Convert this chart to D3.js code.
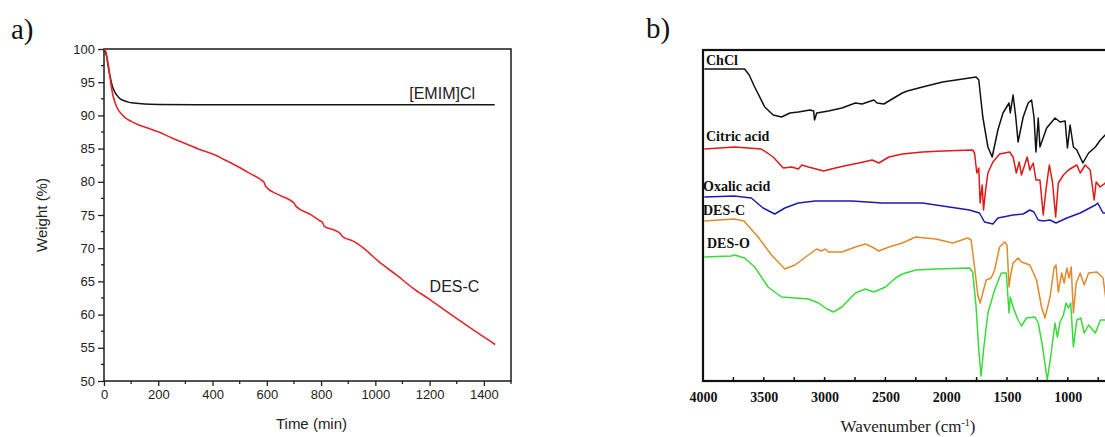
<!DOCTYPE html>
<html><head><meta charset="utf-8">
<script src="https://cdn.jsdelivr.net/npm/d3@7"></script>
<style>
html,body{margin:0;padding:0;background:#fff;}
svg{display:block;}
</style></head>
<body>
<svg id="chart" width="1105" height="437"></svg>
<script>
// ---------- Panel a: TGA ----------
const timeTicks = [0, 200, 400, 600, 800, 1000, 1200, 1400];
const weightTicks = [50, 55, 60, 65, 70, 75, 80, 85, 90, 95, 100];

const emimTime   = [0, 5, 10, 15, 20, 25, 30, 40, 50, 60, 75, 90, 110, 150, 200, 400, 800, 1440];
const emimWeight = [100, 99.6, 98.8, 97.5, 96.3, 95.4, 94.5, 93.5, 92.9, 92.5, 92.2, 92.0, 91.85, 91.7, 91.65, 91.6, 91.6, 91.6];

const descTime   = [0, 5, 10, 15, 20, 25, 30, 40, 50, 63, 80, 100, 126, 160, 202, 250, 304, 350, 405, 450, 506, 540, 582, 590, 596, 640, 683, 700, 708, 760, 797, 805, 812, 850, 873, 878, 885, 917, 960, 1012, 1080, 1138, 1200, 1265, 1350, 1442];
const descWeight = [100, 99.8, 99, 97.8, 96.5, 94.9, 93.6, 92, 91, 90.3, 89.6, 89.1, 88.6, 88.1, 87.5, 86.6, 85.7, 84.9, 84.1, 83.2, 82.0, 81.2, 80.2, 79.9, 79.3, 78.1, 77.3, 76.8, 76.3, 75.1, 74.1, 73.9, 73.3, 72.7, 72.1, 71.8, 71.6, 71.1, 69.9, 68.0, 65.9, 64.0, 62.3, 60.4, 58.0, 55.5];

// ---------- Panel b: FTIR (offset spectra, arbitrary units) ----------
const wnTicks = [4000, 3500, 3000, 2500, 2000, 1500, 1000, 500];
const chclSpec = [[3989,312],[3658,312],[3620,306],[3575,294],[3492,274],[3423,266],[3354,264],[3285,268],[3216,269],[3120,271],[3090,270],[3083,261],[3065,268],[2968,270],[2858,273],[2747,278],[2692,277],[2595,281],[2568,278],[2513,277],[2444,282],[2361,288],[2320,290],[2195,294],[2030,299],[1864,302],[1754,304],[1732,301],[1699,264],[1657,234],[1622,224],[1575,251],[1533,268],[1483,278],[1473,268],[1450,286],[1428,264],[1409,239],[1367,264],[1326,278],[1298,281],[1278,264],[1262,229],[1243,263],[1229,234],[1174,253],[1105,263],[1064,259],[1022,260],[1003,233],[981,256],[954,234],[926,231],[876,218],[829,228],[773,234],[732,241],[677,248],[663,259],[620,276]];
const citricSpec = [[3989,232],[3741,234],[3520,232],[3423,224],[3340,213],[3271,214],[3216,212],[3188,216],[3133,214],[3009,210],[2912,213],[2802,216],[2719,218],[2609,221],[2554,218],[2471,224],[2361,227],[2195,229],[2030,230],[1782,231],[1767,228],[1748,208],[1732,213],[1721,178],[1704,196],[1693,171],[1676,191],[1657,208],[1616,219],[1561,227],[1478,229],[1450,224],[1423,208],[1400,219],[1381,206],[1334,224],[1312,211],[1284,218],[1262,201],[1229,201],[1202,166],[1180,191],[1152,216],[1125,198],[1100,164],[1078,198],[1036,206],[995,211],[954,214],[926,216],[898,208],[857,216],[816,211],[783,181],[767,199],[734,194],[692,198],[673,204],[620,209]];
const oxalicSpec = [[3989,184],[3741,185],[3603,183],[3506,173],[3410,167],[3327,173],[3216,178],[3078,180],[2775,180],[2526,178],[2361,178],[2195,178],[1975,174],[1809,171],[1740,168.5],[1726,168],[1685,159],[1616,157],[1575,163],[1533,164],[1450,166],[1367,167],[1312,171],[1279,169],[1243,161],[1202,160],[1146,161],[1097,158],[1008,163],[898,168],[773,176],[754,178],[710,168],[663,168],[620,168]];
const descSpec = [[3989,160],[3741,162],[3663,160],[3547,144],[3437,126],[3327,112],[3244,116],[3133,126],[3065,132],[3029,130],[2995,132],[2968,129],[2858,129],[2747,134],[2664,137],[2609,134],[2554,130],[2471,134],[2361,138],[2251,144],[2086,142],[1947,138],[1823,143],[1795,141],[1767,114],[1740,86],[1721,78],[1699,88],[1671,101],[1630,103],[1602,111],[1561,134],[1519,139],[1500,136],[1483,94],[1473,104],[1450,118],[1409,123],[1381,119],[1312,116],[1257,101],[1216,74],[1188,63],[1146,84],[1113,113],[1097,116],[1078,89],[1050,108],[1030,98],[1008,113],[989,103],[972,114],[954,68],[931,98],[898,108],[865,96],[829,108],[760,109],[710,103],[677,73],[663,78],[620,91]];
const desoSpec = [[3989,124],[3768,125],[3741,126],[3658,123],[3575,114],[3465,94],[3354,84],[3244,83],[3133,82],[3050,78],[2981,72],[2926,69],[2858,74],[2747,88],[2664,92],[2595,89],[2499,94],[2416,103],[2361,107],[2251,111],[2086,112],[1809,113],[1782,109],[1754,74],[1732,31],[1713,5],[1693,31],[1657,68],[1602,91],[1547,108],[1506,108],[1483,68],[1473,84],[1450,74],[1409,61],[1381,55],[1340,63],[1271,64],[1243,58],[1207,34],[1169,1],[1141,24],[1105,58],[1086,44],[1064,59],[1036,66],[1014,78],[995,73],[976,78],[954,34],[926,61],[893,63],[865,48],[829,56],[773,48],[732,61],[692,61],[663,54],[620,51]];

const seriesNames = ["ChCl", "Citric acid", "Oxalic acid", "DES-C", "DES-O"];
const seriesColors = ["#111111", "#e01818", "#1c1cb0", "#e08a2c", "#3ada3a"];

const svg = d3.select("#chart");

// ===== Panel a =====
const A = {left: 104, right: 511, top: 49, bottom: 381};
const xA = d3.scaleLinear().domain([0, 1500]).range([A.left, A.right]);
const yA = d3.scaleLinear().domain([50, 100]).range([A.bottom, A.top]);
const gA = svg.append("g");
const sansFont = "'Liberation Sans', Arial, sans-serif";

gA.append("text").attr("x", 11).attr("y", 39).text("a)")
  .attr("font-family", "'Liberation Serif', 'Times New Roman', serif").attr("font-size", 29).attr("fill", "#111");

// minor ticks
const xAminor = d3.range(100, 1501, 200);
const yAminor = d3.range(52.5, 100, 5);
gA.append("g").selectAll("line").data(xAminor).join("line")
  .attr("x1", d => xA(d)).attr("x2", d => xA(d)).attr("y1", A.bottom).attr("y2", A.bottom + 3)
  .attr("stroke", "#222").attr("stroke-width", 1.3);
gA.append("g").selectAll("line").data(yAminor).join("line")
  .attr("y1", d => yA(d)).attr("y2", d => yA(d)).attr("x1", A.left).attr("x2", A.left - 3)
  .attr("stroke", "#222").attr("stroke-width", 1.3);

const axBot = gA.append("g").attr("transform", `translate(0,${A.bottom})`)
  .call(d3.axisBottom(xA).tickValues(timeTicks).tickSize(5).tickPadding(4).tickFormat(d3.format("d")));
const axLeft = gA.append("g").attr("transform", `translate(${A.left},0)`)
  .call(d3.axisLeft(yA).tickValues(weightTicks).tickSize(6).tickPadding(3));
[axBot, axLeft].forEach(ax => {
  ax.select(".domain").remove();
  ax.selectAll(".tick line").attr("stroke", "#222").attr("stroke-width", 1.3);
  ax.selectAll("text").attr("font-family", sansFont).attr("font-size", 13).attr("fill", "#222");
});
gA.append("rect").attr("x", A.left).attr("y", A.top).attr("width", A.right - A.left).attr("height", A.bottom - A.top)
  .attr("fill", "none").attr("stroke", "#1a1a1a").attr("stroke-width", 1.5);

const lineA = d3.line().x(d => xA(d[0])).y(d => yA(d[1])).curve(d3.curveMonotoneX);
gA.append("path").datum(emimTime.map((t, i) => [t, emimWeight[i]]))
  .attr("d", lineA).attr("fill", "none").attr("stroke", "#151515").attr("stroke-width", 1.5);
gA.append("path").datum(descTime.map((t, i) => [t, descWeight[i]]))
  .attr("d", lineA).attr("fill", "none").attr("stroke", "#e4262a").attr("stroke-width", 1.6);

gA.append("text").attr("x", xA(1125)).attr("y", yA(91.6) - 6).text("[EMIM]Cl")
  .attr("font-family", sansFont).attr("font-size", 16).attr("fill", "#222");
gA.append("text").attr("x", xA(1200)).attr("y", yA(63.4)).text("DES-C")
  .attr("font-family", sansFont).attr("font-size", 16).attr("fill", "#222");

gA.append("text").attr("x", (A.left + A.right) / 2 + 4).attr("y", 429).attr("text-anchor", "middle")
  .text("Time (min)").attr("font-family", sansFont).attr("font-size", 15).attr("fill", "#222");
gA.append("text").attr("transform", `translate(47,${(A.top + A.bottom) / 2}) rotate(-90)`)
  .attr("text-anchor", "middle").text("Weight (%)")
  .attr("font-family", sansFont).attr("font-size", 15).attr("fill", "#222");

// ===== Panel b =====
const B = {left: 703, top: 50, bottom: 381};
const serif = "'Liberation Serif', 'Times New Roman', serif";
const xB = d3.scaleLinear().domain([4000, 400]).range([B.left, B.left + 3600 * 0.1216]);
const yB = d3.scaleLinear().domain([0, 331]).range([B.bottom, B.top]);
const gB = svg.append("g");

gB.append("text").attr("x", 646).attr("y", 38).text("b)")
  .attr("font-family", serif).attr("font-size", 29).attr("fill", "#111");

svg.append("defs").append("clipPath").attr("id", "clipB").append("rect")
  .attr("x", B.left).attr("y", B.top).attr("width", xB(400) - B.left).attr("height", B.bottom - B.top);

const lineB = d3.line().x(d => xB(d[0])).y(d => yB(d[1]));
const specs = [chclSpec, citricSpec, oxalicSpec, descSpec, desoSpec];
const pg = gB.append("g").attr("clip-path", "url(#clipB)");
specs.forEach((s, i) => {
  pg.append("path").datum(s).attr("d", lineB).attr("fill", "none")
    .attr("stroke", seriesColors[i]).attr("stroke-width", 1.5).attr("stroke-linejoin", "round");
});

// axes
const axB = gB.append("g").attr("transform", `translate(0,${B.bottom})`)
  .call(d3.axisBottom(xB).tickValues(wnTicks.filter(d => xB(d) <= 1105)).tickSize(0).tickPadding(11).tickFormat(d3.format("d")));
axB.select(".domain").remove();
axB.selectAll("text").attr("font-family", serif).attr("font-weight", "bold").attr("font-size", 14).attr("fill", "#111");
const wnMinor = d3.range(4000, 399, -250);
gB.append("g").selectAll("line").data(wnMinor).join("line")
  .attr("x1", d => xB(d)).attr("x2", d => xB(d)).attr("y1", B.bottom).attr("y2", B.bottom - 4)
  .attr("stroke", "#111").attr("stroke-width", 1.5);
gB.append("rect").attr("x", B.left).attr("y", B.top).attr("width", xB(400) - B.left).attr("height", B.bottom - B.top)
  .attr("fill", "none").attr("stroke", "#111").attr("stroke-width", 2.2);

// series labels
const labelPos = [[706, 65], [706, 141], [703, 191], [703, 215], [707, 248]];
seriesNames.forEach((n, i) => {
  gB.append("text").attr("x", labelPos[i][0]).attr("y", labelPos[i][1]).text(n)
    .attr("font-family", serif).attr("font-weight", "bold").attr("font-size", 14).attr("fill", "#111");
});

const xt = gB.append("text").attr("x", 908).attr("y", 432).attr("text-anchor", "middle")
  .attr("font-family", serif).attr("font-size", 17).attr("fill", "#222");
xt.append("tspan").text("Wavenumber (cm");
xt.append("tspan").attr("dy", -6).attr("font-size", 10).text("-1");
xt.append("tspan").attr("dy", 6).text(")");
</script>
</body></html>
